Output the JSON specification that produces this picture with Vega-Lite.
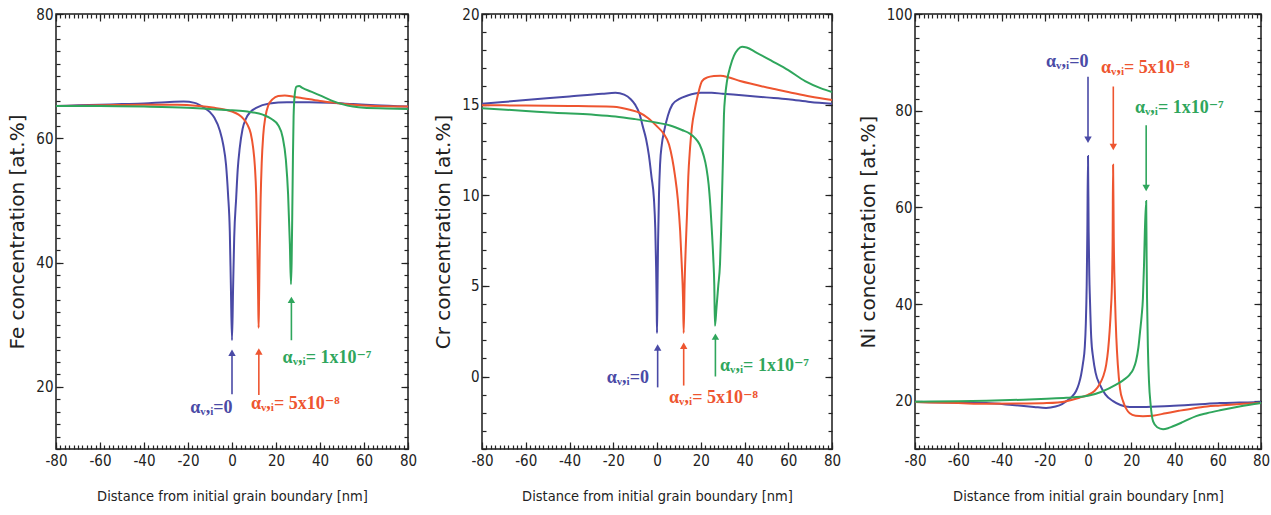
{
  "$schema": "https://vega.github.io/schema/vega-lite/v6.json",
  "background": "white",
  "padding": {"left": 7, "top": 6, "right": 3, "bottom": 3},
  "spacing": 15,
  "datasets": {
    "fe": [
      {"x":-80,"y":65.2,"s":"b"},{"x":-70,"y":65.3,"s":"b"},{"x":-60,"y":65.4,"s":"b"},{"x":-50,"y":65.5,"s":"b"},{"x":-40,"y":65.6,"s":"b"},{"x":-30,"y":65.8,"s":"b"},{"x":-22,"y":65.9,"s":"b"},{"x":-17,"y":65.7,"s":"b"},{"x":-13,"y":65.0,"s":"b"},{"x":-10,"y":64.2,"s":"b"},{"x":-8,"y":63.3,"s":"b"},{"x":-5.5,"y":61.2,"s":"b"},{"x":-4,"y":59,"s":"b"},{"x":-2.7,"y":55.7,"s":"b"},{"x":-1.8,"y":51,"s":"b"},{"x":-1,"y":45,"s":"b"},{"x":-0.5,"y":36,"s":"b"},{"x":0,"y":27.5,"s":"b"},{"x":0.5,"y":36,"s":"b"},{"x":1,"y":44,"s":"b"},{"x":1.9,"y":50.4,"s":"b"},{"x":2.6,"y":55,"s":"b"},{"x":3.5,"y":58.4,"s":"b"},{"x":4.8,"y":61.5,"s":"b"},{"x":6.4,"y":63.2,"s":"b"},{"x":8.5,"y":64.3,"s":"b"},{"x":11,"y":64.9,"s":"b"},{"x":17,"y":65.6,"s":"b"},{"x":25,"y":65.8,"s":"b"},{"x":35,"y":65.8,"s":"b"},{"x":45,"y":65.7,"s":"b"},{"x":55,"y":65.5,"s":"b"},{"x":65,"y":65.3,"s":"b"},{"x":80,"y":65.1,"s":"b"},
      {"x":-80,"y":65.2,"s":"r"},{"x":-60,"y":65.3,"s":"r"},{"x":-40,"y":65.4,"s":"r"},{"x":-25,"y":65.4,"s":"r"},{"x":-15,"y":65.2,"s":"r"},{"x":-8,"y":64.9,"s":"r"},{"x":-3,"y":64.6,"s":"r"},{"x":0,"y":64.3,"s":"r"},{"x":3,"y":63.8,"s":"r"},{"x":5,"y":63.2,"s":"r"},{"x":7,"y":62.2,"s":"r"},{"x":8.5,"y":60.8,"s":"r"},{"x":9.6,"y":58.5,"s":"r"},{"x":10.4,"y":55.5,"s":"r"},{"x":11,"y":51,"s":"r"},{"x":11.5,"y":43,"s":"r"},{"x":11.9,"y":34,"s":"r"},{"x":12.1,"y":29.5,"s":"r"},{"x":12.3,"y":34,"s":"r"},{"x":12.6,"y":42,"s":"r"},{"x":13,"y":50,"s":"r"},{"x":13.5,"y":56,"s":"r"},{"x":14.2,"y":60.5,"s":"r"},{"x":15.2,"y":63.5,"s":"r"},{"x":16.5,"y":65.3,"s":"r"},{"x":18.5,"y":66.3,"s":"r"},{"x":21,"y":66.8,"s":"r"},{"x":24,"y":66.9,"s":"r"},{"x":28,"y":66.7,"s":"r"},{"x":33,"y":66.4,"s":"r"},{"x":40,"y":66.0,"s":"r"},{"x":47,"y":65.7,"s":"r"},{"x":55,"y":65.4,"s":"r"},{"x":65,"y":65.2,"s":"r"},{"x":80,"y":65.1,"s":"r"},
      {"x":-80,"y":65.2,"s":"g"},{"x":-60,"y":65.2,"s":"g"},{"x":-40,"y":65.1,"s":"g"},{"x":-20,"y":64.9,"s":"g"},{"x":-10,"y":64.7,"s":"g"},{"x":0,"y":64.5,"s":"g"},{"x":7,"y":64.3,"s":"g"},{"x":14,"y":63.8,"s":"g"},{"x":18,"y":63.1,"s":"g"},{"x":21,"y":62.1,"s":"g"},{"x":23,"y":60.2,"s":"g"},{"x":24.5,"y":56.5,"s":"g"},{"x":25.5,"y":51,"s":"g"},{"x":26.3,"y":43,"s":"g"},{"x":26.8,"y":36.5,"s":"g"},{"x":27.1,"y":40,"s":"g"},{"x":27.4,"y":48,"s":"g"},{"x":27.7,"y":57,"s":"g"},{"x":28,"y":63.5,"s":"g"},{"x":28.5,"y":67,"s":"g"},{"x":29.3,"y":68.3,"s":"g"},{"x":30.5,"y":68.4,"s":"g"},{"x":32,"y":68.1,"s":"g"},{"x":36,"y":67.5,"s":"g"},{"x":40,"y":66.9,"s":"g"},{"x":45,"y":66.1,"s":"g"},{"x":50,"y":65.5,"s":"g"},{"x":55,"y":65.1,"s":"g"},{"x":60,"y":64.9,"s":"g"},{"x":70,"y":64.8,"s":"g"},{"x":80,"y":64.7,"s":"g"}
    ],
    "cr": [
      {"x":-80,"y":15.05,"s":"b"},{"x":-60,"y":15.25,"s":"b"},{"x":-40,"y":15.45,"s":"b"},{"x":-25,"y":15.6,"s":"b"},{"x":-19,"y":15.65,"s":"b"},{"x":-15,"y":15.55,"s":"b"},{"x":-12,"y":15.3,"s":"b"},{"x":-10,"y":15.0,"s":"b"},{"x":-8,"y":14.5,"s":"b"},{"x":-6.5,"y":13.8,"s":"b"},{"x":-5,"y":13.1,"s":"b"},{"x":-3.7,"y":12.2,"s":"b"},{"x":-2.5,"y":11.0,"s":"b"},{"x":-1.4,"y":9.8,"s":"b"},{"x":-0.8,"y":8.2,"s":"b"},{"x":-0.4,"y":6,"s":"b"},{"x":-0.15,"y":4,"s":"b"},{"x":0,"y":2.4,"s":"b"},{"x":0.2,"y":4.5,"s":"b"},{"x":0.5,"y":7.5,"s":"b"},{"x":0.9,"y":10,"s":"b"},{"x":1.4,"y":11.7,"s":"b"},{"x":2.2,"y":12.8,"s":"b"},{"x":3.2,"y":13.5,"s":"b"},{"x":5,"y":14.4,"s":"b"},{"x":7,"y":15.0,"s":"b"},{"x":10,"y":15.3,"s":"b"},{"x":14,"y":15.5,"s":"b"},{"x":20,"y":15.65,"s":"b"},{"x":25,"y":15.65,"s":"b"},{"x":30,"y":15.6,"s":"b"},{"x":40,"y":15.5,"s":"b"},{"x":50,"y":15.4,"s":"b"},{"x":60,"y":15.3,"s":"b"},{"x":70,"y":15.15,"s":"b"},{"x":80,"y":15.05,"s":"b"},
      {"x":-80,"y":14.97,"s":"r"},{"x":-60,"y":14.95,"s":"r"},{"x":-40,"y":14.93,"s":"r"},{"x":-20,"y":14.88,"s":"r"},{"x":-12,"y":14.7,"s":"r"},{"x":-8,"y":14.55,"s":"r"},{"x":-4,"y":14.25,"s":"r"},{"x":0,"y":13.8,"s":"r"},{"x":3,"y":13.4,"s":"r"},{"x":5.5,"y":12.8,"s":"r"},{"x":7,"y":12.0,"s":"r"},{"x":8.2,"y":11.1,"s":"r"},{"x":9.5,"y":9.8,"s":"r"},{"x":10.6,"y":8.0,"s":"r"},{"x":11.3,"y":6.2,"s":"r"},{"x":11.9,"y":4.3,"s":"r"},{"x":12.2,"y":2.4,"s":"r"},{"x":12.6,"y":5,"s":"r"},{"x":13.1,"y":7,"s":"r"},{"x":13.7,"y":8.9,"s":"r"},{"x":14.3,"y":11,"s":"r"},{"x":15.1,"y":12.6,"s":"r"},{"x":16,"y":13.8,"s":"r"},{"x":17.4,"y":14.8,"s":"r"},{"x":19,"y":15.7,"s":"r"},{"x":20.6,"y":16.3,"s":"r"},{"x":23,"y":16.5,"s":"r"},{"x":26,"y":16.58,"s":"r"},{"x":29,"y":16.6,"s":"r"},{"x":33,"y":16.5,"s":"r"},{"x":38,"y":16.3,"s":"r"},{"x":45,"y":16.1,"s":"r"},{"x":52,"y":15.9,"s":"r"},{"x":60,"y":15.7,"s":"r"},{"x":70,"y":15.45,"s":"r"},{"x":80,"y":15.25,"s":"r"},
      {"x":-80,"y":14.8,"s":"g"},{"x":-60,"y":14.65,"s":"g"},{"x":-47,"y":14.55,"s":"g"},{"x":-30,"y":14.45,"s":"g"},{"x":-19,"y":14.35,"s":"g"},{"x":-10,"y":14.2,"s":"g"},{"x":0,"y":14.0,"s":"g"},{"x":6,"y":13.85,"s":"g"},{"x":11.4,"y":13.6,"s":"g"},{"x":15,"y":13.4,"s":"g"},{"x":17.4,"y":13.15,"s":"g"},{"x":19.5,"y":12.8,"s":"g"},{"x":21.3,"y":12.2,"s":"g"},{"x":22.6,"y":11.5,"s":"g"},{"x":23.6,"y":10.6,"s":"g"},{"x":24.4,"y":9.4,"s":"g"},{"x":25.1,"y":8.0,"s":"g"},{"x":25.7,"y":6.6,"s":"g"},{"x":26.2,"y":5.0,"s":"g"},{"x":26.5,"y":2.8,"s":"g"},{"x":27.2,"y":3.8,"s":"g"},{"x":28,"y":5,"s":"g"},{"x":28.8,"y":6.2,"s":"g"},{"x":29.3,"y":8,"s":"g"},{"x":29.7,"y":9.85,"s":"g"},{"x":30.2,"y":12.3,"s":"g"},{"x":30.6,"y":14.4,"s":"g"},{"x":31.2,"y":15.5,"s":"g"},{"x":32,"y":16.3,"s":"g"},{"x":33.5,"y":17.1,"s":"g"},{"x":35.2,"y":17.7,"s":"g"},{"x":37,"y":18.05,"s":"g"},{"x":38.9,"y":18.2,"s":"g"},{"x":41,"y":18.15,"s":"g"},{"x":45,"y":17.9,"s":"g"},{"x":52.6,"y":17.4,"s":"g"},{"x":60,"y":16.9,"s":"g"},{"x":67.7,"y":16.3,"s":"g"},{"x":75,"y":15.9,"s":"g"},{"x":80,"y":15.7,"s":"g"}
    ],
    "ni": [
      {"x":-80,"y":19.7,"s":"b"},{"x":-60,"y":19.6,"s":"b"},{"x":-47,"y":19.5,"s":"b"},{"x":-35,"y":19.1,"s":"b"},{"x":-25,"y":18.7,"s":"b"},{"x":-19.4,"y":18.5,"s":"b"},{"x":-15,"y":18.8,"s":"b"},{"x":-12,"y":19.3,"s":"b"},{"x":-10,"y":19.9,"s":"b"},{"x":-7.5,"y":20.8,"s":"b"},{"x":-5.5,"y":22.0,"s":"b"},{"x":-4.2,"y":23.5,"s":"b"},{"x":-3.2,"y":25.3,"s":"b"},{"x":-2.3,"y":27.8,"s":"b"},{"x":-1.5,"y":31,"s":"b"},{"x":-1.0,"y":36,"s":"b"},{"x":-0.6,"y":44,"s":"b"},{"x":-0.3,"y":55,"s":"b"},{"x":0,"y":70.6,"s":"b"},{"x":0.3,"y":55,"s":"b"},{"x":0.6,"y":46,"s":"b"},{"x":0.9,"y":41,"s":"b"},{"x":1.5,"y":33,"s":"b"},{"x":2.4,"y":28.8,"s":"b"},{"x":3.5,"y":25.8,"s":"b"},{"x":5.5,"y":23.3,"s":"b"},{"x":8,"y":21.3,"s":"b"},{"x":11.6,"y":19.9,"s":"b"},{"x":15,"y":19.1,"s":"b"},{"x":19.3,"y":18.7,"s":"b"},{"x":25,"y":18.7,"s":"b"},{"x":37.8,"y":18.9,"s":"b"},{"x":50,"y":19.2,"s":"b"},{"x":61,"y":19.5,"s":"b"},{"x":70,"y":19.6,"s":"b"},{"x":80,"y":19.7,"s":"b"},
      {"x":-80,"y":19.7,"s":"r"},{"x":-60,"y":19.5,"s":"r"},{"x":-47,"y":19.35,"s":"r"},{"x":-30,"y":19.4,"s":"r"},{"x":-19,"y":19.5,"s":"r"},{"x":-10,"y":19.9,"s":"r"},{"x":-4,"y":20.6,"s":"r"},{"x":0,"y":21.2,"s":"r"},{"x":3,"y":22.0,"s":"r"},{"x":5.5,"y":23.5,"s":"r"},{"x":7,"y":25.0,"s":"r"},{"x":8.4,"y":27.4,"s":"r"},{"x":9.3,"y":30.5,"s":"r"},{"x":10,"y":34.4,"s":"r"},{"x":10.6,"y":39,"s":"r"},{"x":11.1,"y":44.7,"s":"r"},{"x":11.4,"y":54,"s":"r"},{"x":11.6,"y":68.8,"s":"r"},{"x":11.9,"y":54,"s":"r"},{"x":12.5,"y":41,"s":"r"},{"x":13.1,"y":33,"s":"r"},{"x":13.8,"y":27.4,"s":"r"},{"x":14.8,"y":22.5,"s":"r"},{"x":16.2,"y":19.9,"s":"r"},{"x":17.7,"y":18.3,"s":"r"},{"x":19.3,"y":17.4,"s":"r"},{"x":22,"y":16.9,"s":"r"},{"x":25.4,"y":16.8,"s":"r"},{"x":30,"y":16.9,"s":"r"},{"x":36,"y":17.4,"s":"r"},{"x":42,"y":17.9,"s":"r"},{"x":48.5,"y":18.4,"s":"r"},{"x":55,"y":18.8,"s":"r"},{"x":61,"y":19.0,"s":"r"},{"x":70,"y":19.3,"s":"r"},{"x":80,"y":19.5,"s":"r"},
      {"x":-80,"y":19.8,"s":"g"},{"x":-60,"y":19.9,"s":"g"},{"x":-47,"y":20.0,"s":"g"},{"x":-30,"y":20.2,"s":"g"},{"x":-19,"y":20.4,"s":"g"},{"x":-10,"y":20.6,"s":"g"},{"x":0,"y":21.0,"s":"g"},{"x":6,"y":21.8,"s":"g"},{"x":13,"y":23.3,"s":"g"},{"x":16.5,"y":24.3,"s":"g"},{"x":19.3,"y":25.4,"s":"g"},{"x":21,"y":26.6,"s":"g"},{"x":22.2,"y":28.2,"s":"g"},{"x":23.3,"y":31,"s":"g"},{"x":24.1,"y":34.4,"s":"g"},{"x":24.8,"y":37.5,"s":"g"},{"x":25.4,"y":41.2,"s":"g"},{"x":25.9,"y":48,"s":"g"},{"x":26.3,"y":55.1,"s":"g"},{"x":26.9,"y":61.3,"s":"g"},{"x":27.1,"y":50,"s":"g"},{"x":27.3,"y":41.2,"s":"g"},{"x":27.7,"y":31,"s":"g"},{"x":28.2,"y":24,"s":"g"},{"x":29,"y":19,"s":"g"},{"x":30.1,"y":15.7,"s":"g"},{"x":32,"y":14.5,"s":"g"},{"x":34.7,"y":14.1,"s":"g"},{"x":37,"y":14.3,"s":"g"},{"x":39.3,"y":14.7,"s":"g"},{"x":44,"y":15.6,"s":"g"},{"x":50,"y":16.8,"s":"g"},{"x":55,"y":17.4,"s":"g"},{"x":61,"y":18.0,"s":"g"},{"x":70,"y":18.8,"s":"g"},{"x":80,"y":19.5,"s":"g"}
    ],
    "feArrows": [
      {"x":0,"tail":18.8,"head":25.5,"s":"b"},{"x":12.2,"tail":18.7,"head":25.7,"s":"r"},{"x":27,"tail":27.5,"head":34,"s":"g"}
    ],
    "crArrows": [
      {"x":0.3,"tail":-0.6,"head":1.6,"s":"b"},{"x":12.2,"tail":-0.5,"head":1.7,"s":"r"},{"x":26.7,"tail":0.0,"head":2.2,"s":"g"}
    ],
    "niArrows": [
      {"x":0,"tail":87,"head":74,"s":"b"},{"x":11.7,"tail":85,"head":72.5,"s":"r"},{"x":26.9,"tail":77,"head":64,"s":"g"}
    ],
    "feLabels": [
      {"x":-19,"y":16.6,"s":"b","t":"αᵥ,ᵢ=0"},{"x":8.6,"y":17.3,"s":"r","t":"αᵥ,ᵢ= 5x10⁻⁸"},{"x":23,"y":24.7,"s":"g","t":"αᵥ,ᵢ= 1x10⁻⁷"}
    ],
    "crLabels": [
      {"x":-23,"y":-0.1,"s":"b","t":"αᵥ,ᵢ=0"},{"x":5.5,"y":-1.2,"s":"r","t":"αᵥ,ᵢ= 5x10⁻⁸"},{"x":28.8,"y":0.6,"s":"g","t":"αᵥ,ᵢ= 1x10⁻⁷"}
    ],
    "niLabels": [
      {"x":-19.4,"y":90,"s":"b","t":"αᵥ,ᵢ=0"},{"x":6,"y":88.8,"s":"r","t":"αᵥ,ᵢ= 5x10⁻⁸"},{"x":21.7,"y":80.5,"s":"g","t":"αᵥ,ᵢ= 1x10⁻⁷"}
    ]
  },
  "hconcat": [
    {
      "width": 352, "height": 435,
      "resolve": {"axis": {"x": "independent", "y": "independent"}},
      "layer": [
        {
          "data": {"name": "fe"},
          "mark": {"type": "line", "strokeWidth": 2, "interpolate": "monotone"},
          "encoding": {
            "x": {"field": "x", "type": "quantitative", "scale": {"domain": [-80, 80], "nice": false, "zero": false},
                  "axis": {"orient": "bottom", "values": [-80,-60,-40,-20,0,20,40,60,80], "offset": -7, "tickSize": 7, "labelPadding": 4, "labelExpr": "'' + datum.value", "title": "Distance from initial grain boundary [nm]", "titleFont": "DejaVu Sans Condensed, Liberation Sans Narrow, Liberation Sans, sans-serif", "titleFontSize": 14.5, "titlePadding": 21}},
            "y": {"field": "y", "type": "quantitative", "scale": {"domain": [10, 80], "nice": false, "zero": false},
                  "axis": {"orient": "left", "values": [20,40,60,80], "offset": -7, "tickSize": 7, "labelPadding": 3, "labelExpr": "'' + datum.value", "title": "Fe concentration [at.%]", "titleFontSize": 20, "titlePadding": 8}},
            "color": {"field": "s", "type": "nominal", "scale": {"domain": ["b","r","g"], "range": ["#4a4aa6","#ee5530","#2fa65c"]}, "legend": null}
          }
        },
        {
          "data": {"name": "feArrows"},
          "mark": {"type": "rule", "strokeWidth": 1.6},
          "encoding": {
            "x": {"field": "x", "type": "quantitative", "scale": {"domain": [-80, 80], "nice": false, "zero": false},
                  "axis": {"orient": "top", "values": [-80,-60,-40,-20,0,20,40,60,80], "offset": -7, "tickSize": 7, "labels": false, "title": null}},
            "y": {"field": "tail", "type": "quantitative", "scale": {"domain": [10, 80], "nice": false, "zero": false},
                  "axis": {"orient": "right", "values": [20,40,60,80], "offset": -7, "tickSize": 7, "labels": false, "title": null}},
            "y2": {"field": "head"},
            "color": {"field": "s", "type": "nominal", "legend": null}
          }
        },
        {
          "data": {"name": "feArrows"},
          "mark": {"type": "point", "shape": "triangle-up", "filled": true, "size": 55, "opacity": 1},
          "encoding": {
            "x": {"field": "x", "type": "quantitative", "scale": {"domain": [-80, 80], "nice": false, "zero": false},
                  "axis": {"orient": "bottom", "values": [-80,-78,-76,-74,-72,-70,-68,-66,-64,-62,-60,-58,-56,-54,-52,-50,-48,-46,-44,-42,-40,-38,-36,-34,-32,-30,-28,-26,-24,-22,-20,-18,-16,-14,-12,-10,-8,-6,-4,-2,0,2,4,6,8,10,12,14,16,18,20,22,24,26,28,30,32,34,36,38,40,42,44,46,48,50,52,54,56,58,60,62,64,66,68,70,72,74,76,78,80], "offset": -4, "tickSize": 4, "labels": false, "title": null}},
            "y": {"field": "head", "type": "quantitative", "scale": {"domain": [10, 80], "nice": false, "zero": false},
                  "axis": {"orient": "left", "values": [10,12,14,16,18,20,22,24,26,28,30,32,34,36,38,40,42,44,46,48,50,52,54,56,58,60,62,64,66,68,70,72,74,76,78,80], "offset": -4, "tickSize": 4, "labels": false, "title": null}},
            "color": {"field": "s", "type": "nominal", "legend": null}
          }
        },
        {
          "data": {"name": "feLabels"},
          "mark": {"type": "text", "align": "left", "baseline": "middle", "font": "Liberation Serif, DejaVu Serif, serif", "fontWeight": "bold", "fontSize": 18},
          "encoding": {
            "x": {"field": "x", "type": "quantitative", "scale": {"domain": [-80, 80], "nice": false, "zero": false},
                  "axis": {"orient": "top", "values": [-80,-78,-76,-74,-72,-70,-68,-66,-64,-62,-60,-58,-56,-54,-52,-50,-48,-46,-44,-42,-40,-38,-36,-34,-32,-30,-28,-26,-24,-22,-20,-18,-16,-14,-12,-10,-8,-6,-4,-2,0,2,4,6,8,10,12,14,16,18,20,22,24,26,28,30,32,34,36,38,40,42,44,46,48,50,52,54,56,58,60,62,64,66,68,70,72,74,76,78,80], "offset": -4, "tickSize": 4, "labels": false, "title": null}},
            "y": {"field": "y", "type": "quantitative", "scale": {"domain": [10, 80], "nice": false, "zero": false},
                  "axis": {"orient": "right", "values": [10,12,14,16,18,20,22,24,26,28,30,32,34,36,38,40,42,44,46,48,50,52,54,56,58,60,62,64,66,68,70,72,74,76,78,80], "offset": -4, "tickSize": 4, "labels": false, "title": null}},
            "text": {"field": "t"},
            "color": {"field": "s", "type": "nominal", "legend": null}
          }
        }
      ]
    },
    {
      "width": 350, "height": 435,
      "resolve": {"axis": {"x": "independent", "y": "independent"}},
      "layer": [
        {
          "data": {"name": "cr"},
          "mark": {"type": "line", "strokeWidth": 2, "interpolate": "monotone"},
          "encoding": {
            "x": {"field": "x", "type": "quantitative", "scale": {"domain": [-80, 80], "nice": false, "zero": false},
                  "axis": {"orient": "bottom", "values": [-80,-60,-40,-20,0,20,40,60,80], "offset": -7, "tickSize": 7, "labelPadding": 4, "labelExpr": "'' + datum.value", "title": "Distance from initial grain boundary [nm]", "titleFont": "DejaVu Sans Condensed, Liberation Sans Narrow, Liberation Sans, sans-serif", "titleFontSize": 14.5, "titlePadding": 21}},
            "y": {"field": "y", "type": "quantitative", "scale": {"domain": [-4, 20], "nice": false, "zero": false},
                  "axis": {"orient": "left", "values": [0,5,10,15,20], "offset": -7, "tickSize": 7, "labelPadding": 3, "labelExpr": "'' + datum.value", "title": "Cr concentration [at.%]", "titleFontSize": 20, "titlePadding": 8}},
            "color": {"field": "s", "type": "nominal", "scale": {"domain": ["b","r","g"], "range": ["#4a4aa6","#ee5530","#2fa65c"]}, "legend": null}
          }
        },
        {
          "data": {"name": "crArrows"},
          "mark": {"type": "rule", "strokeWidth": 1.6},
          "encoding": {
            "x": {"field": "x", "type": "quantitative", "scale": {"domain": [-80, 80], "nice": false, "zero": false},
                  "axis": {"orient": "top", "values": [-80,-60,-40,-20,0,20,40,60,80], "offset": -7, "tickSize": 7, "labels": false, "title": null}},
            "y": {"field": "tail", "type": "quantitative", "scale": {"domain": [-4, 20], "nice": false, "zero": false},
                  "axis": {"orient": "right", "values": [0,5,10,15,20], "offset": -7, "tickSize": 7, "labels": false, "title": null}},
            "y2": {"field": "head"},
            "color": {"field": "s", "type": "nominal", "legend": null}
          }
        },
        {
          "data": {"name": "crArrows"},
          "mark": {"type": "point", "shape": "triangle-up", "filled": true, "size": 55, "opacity": 1},
          "encoding": {
            "x": {"field": "x", "type": "quantitative", "scale": {"domain": [-80, 80], "nice": false, "zero": false},
                  "axis": {"orient": "bottom", "values": [-80,-78,-76,-74,-72,-70,-68,-66,-64,-62,-60,-58,-56,-54,-52,-50,-48,-46,-44,-42,-40,-38,-36,-34,-32,-30,-28,-26,-24,-22,-20,-18,-16,-14,-12,-10,-8,-6,-4,-2,0,2,4,6,8,10,12,14,16,18,20,22,24,26,28,30,32,34,36,38,40,42,44,46,48,50,52,54,56,58,60,62,64,66,68,70,72,74,76,78,80], "offset": -4, "tickSize": 4, "labels": false, "title": null}},
            "y": {"field": "head", "type": "quantitative", "scale": {"domain": [-4, 20], "nice": false, "zero": false},
                  "axis": {"orient": "left", "values": [-4,-3,-2,-1,0,1,2,3,4,5,6,7,8,9,10,11,12,13,14,15,16,17,18,19,20], "offset": -4, "tickSize": 4, "labels": false, "title": null}},
            "color": {"field": "s", "type": "nominal", "legend": null}
          }
        },
        {
          "data": {"name": "crLabels"},
          "mark": {"type": "text", "align": "left", "baseline": "middle", "font": "Liberation Serif, DejaVu Serif, serif", "fontWeight": "bold", "fontSize": 18},
          "encoding": {
            "x": {"field": "x", "type": "quantitative", "scale": {"domain": [-80, 80], "nice": false, "zero": false},
                  "axis": {"orient": "top", "values": [-80,-78,-76,-74,-72,-70,-68,-66,-64,-62,-60,-58,-56,-54,-52,-50,-48,-46,-44,-42,-40,-38,-36,-34,-32,-30,-28,-26,-24,-22,-20,-18,-16,-14,-12,-10,-8,-6,-4,-2,0,2,4,6,8,10,12,14,16,18,20,22,24,26,28,30,32,34,36,38,40,42,44,46,48,50,52,54,56,58,60,62,64,66,68,70,72,74,76,78,80], "offset": -4, "tickSize": 4, "labels": false, "title": null}},
            "y": {"field": "y", "type": "quantitative", "scale": {"domain": [-4, 20], "nice": false, "zero": false},
                  "axis": {"orient": "right", "values": [-4,-3,-2,-1,0,1,2,3,4,5,6,7,8,9,10,11,12,13,14,15,16,17,18,19,20], "offset": -4, "tickSize": 4, "labels": false, "title": null}},
            "text": {"field": "t"},
            "color": {"field": "s", "type": "nominal", "legend": null}
          }
        }
      ]
    },
    {
      "width": 346, "height": 435,
      "resolve": {"axis": {"x": "independent", "y": "independent"}},
      "layer": [
        {
          "data": {"name": "ni"},
          "mark": {"type": "line", "strokeWidth": 2, "interpolate": "monotone"},
          "encoding": {
            "x": {"field": "x", "type": "quantitative", "scale": {"domain": [-80, 80], "nice": false, "zero": false},
                  "axis": {"orient": "bottom", "values": [-80,-60,-40,-20,0,20,40,60,80], "offset": -7, "tickSize": 7, "labelPadding": 4, "labelExpr": "'' + datum.value", "title": "Distance from initial grain boundary [nm]", "titleFont": "DejaVu Sans Condensed, Liberation Sans Narrow, Liberation Sans, sans-serif", "titleFontSize": 14.5, "titlePadding": 21}},
            "y": {"field": "y", "type": "quantitative", "scale": {"domain": [10, 100], "nice": false, "zero": false},
                  "axis": {"orient": "left", "values": [20,40,60,80,100], "offset": -7, "tickSize": 7, "labelPadding": 3, "labelExpr": "'' + datum.value", "title": "Ni concentration [at.%]", "titleFontSize": 20, "titlePadding": 8}},
            "color": {"field": "s", "type": "nominal", "scale": {"domain": ["b","r","g"], "range": ["#4a4aa6","#ee5530","#2fa65c"]}, "legend": null}
          }
        },
        {
          "data": {"name": "niArrows"},
          "mark": {"type": "rule", "strokeWidth": 1.6},
          "encoding": {
            "x": {"field": "x", "type": "quantitative", "scale": {"domain": [-80, 80], "nice": false, "zero": false},
                  "axis": {"orient": "top", "values": [-80,-60,-40,-20,0,20,40,60,80], "offset": -7, "tickSize": 7, "labels": false, "title": null}},
            "y": {"field": "tail", "type": "quantitative", "scale": {"domain": [10, 100], "nice": false, "zero": false},
                  "axis": {"orient": "right", "values": [20,40,60,80,100], "offset": -7, "tickSize": 7, "labels": false, "title": null}},
            "y2": {"field": "head"},
            "color": {"field": "s", "type": "nominal", "legend": null}
          }
        },
        {
          "data": {"name": "niArrows"},
          "mark": {"type": "point", "shape": "triangle-down", "filled": true, "size": 55, "opacity": 1},
          "encoding": {
            "x": {"field": "x", "type": "quantitative", "scale": {"domain": [-80, 80], "nice": false, "zero": false},
                  "axis": {"orient": "bottom", "values": [-80,-78,-76,-74,-72,-70,-68,-66,-64,-62,-60,-58,-56,-54,-52,-50,-48,-46,-44,-42,-40,-38,-36,-34,-32,-30,-28,-26,-24,-22,-20,-18,-16,-14,-12,-10,-8,-6,-4,-2,0,2,4,6,8,10,12,14,16,18,20,22,24,26,28,30,32,34,36,38,40,42,44,46,48,50,52,54,56,58,60,62,64,66,68,70,72,74,76,78,80], "offset": -4, "tickSize": 4, "labels": false, "title": null}},
            "y": {"field": "head", "type": "quantitative", "scale": {"domain": [10, 100], "nice": false, "zero": false},
                  "axis": {"orient": "left", "values": [10,12.5,15,17.5,20,22.5,25,27.5,30,32.5,35,37.5,40,42.5,45,47.5,50,52.5,55,57.5,60,62.5,65,67.5,70,72.5,75,77.5,80,82.5,85,87.5,90,92.5,95,97.5,100], "offset": -4, "tickSize": 4, "labels": false, "title": null}},
            "color": {"field": "s", "type": "nominal", "legend": null}
          }
        },
        {
          "data": {"name": "niLabels"},
          "mark": {"type": "text", "align": "left", "baseline": "middle", "font": "Liberation Serif, DejaVu Serif, serif", "fontWeight": "bold", "fontSize": 18},
          "encoding": {
            "x": {"field": "x", "type": "quantitative", "scale": {"domain": [-80, 80], "nice": false, "zero": false},
                  "axis": {"orient": "top", "values": [-80,-78,-76,-74,-72,-70,-68,-66,-64,-62,-60,-58,-56,-54,-52,-50,-48,-46,-44,-42,-40,-38,-36,-34,-32,-30,-28,-26,-24,-22,-20,-18,-16,-14,-12,-10,-8,-6,-4,-2,0,2,4,6,8,10,12,14,16,18,20,22,24,26,28,30,32,34,36,38,40,42,44,46,48,50,52,54,56,58,60,62,64,66,68,70,72,74,76,78,80], "offset": -4, "tickSize": 4, "labels": false, "title": null}},
            "y": {"field": "y", "type": "quantitative", "scale": {"domain": [10, 100], "nice": false, "zero": false},
                  "axis": {"orient": "right", "values": [10,12.5,15,17.5,20,22.5,25,27.5,30,32.5,35,37.5,40,42.5,45,47.5,50,52.5,55,57.5,60,62.5,65,67.5,70,72.5,75,77.5,80,82.5,85,87.5,90,92.5,95,97.5,100], "offset": -4, "tickSize": 4, "labels": false, "title": null}},
            "text": {"field": "t"},
            "color": {"field": "s", "type": "nominal", "legend": null}
          }
        }
      ]
    }
  ],
  "config": {
    "view": {"stroke": "#1a1a1a", "strokeWidth": 1.5},
    "axis": {
      "domain": false, "grid": false, "ticks": true,
      "tickColor": "#222", "tickWidth": 1.2,
      "labelFont": "DejaVu Sans Condensed, Liberation Sans Narrow, Liberation Sans, sans-serif", "labelFontSize": 15, "labelColor": "#222",
      "titleFont": "DejaVu Sans, sans-serif", "titleFontWeight": "normal", "titleColor": "#222",
      "labelFlush": false, "labelOverlap": false
    }
  }
}
